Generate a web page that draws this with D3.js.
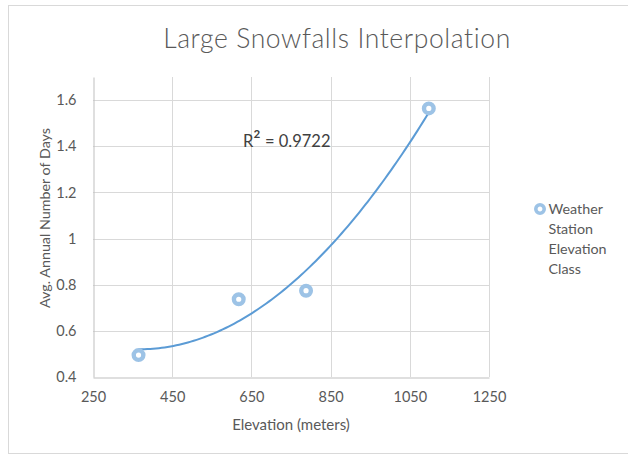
<!DOCTYPE html>
<html>
<head>
<meta charset="utf-8">
<script src="https://cdn.jsdelivr.net/npm/d3@7"></script>
<style>
  html, body { margin: 0; padding: 0; background: #fff; }
  svg { display: block; font-family: Lato, "Open Sans", sans-serif; }
</style>
</head>
<body>
<svg id="chart" width="628" height="455"></svg>
<script>
// Station elevation classes and their average annual count of large-snowfall days
const elevations = [365, 618, 788, 1098];
const avgDays = [0.495, 0.737, 0.774, 1.564];
const xTicks = [250, 450, 650, 850, 1050, 1250];
const yTicks = [0.4, 0.6, 0.8, 1.0, 1.2, 1.4, 1.6];
const chartTitle = "Large Snowfalls Interpolation";
const xTitle = "Elevation (meters)";
const yTitle = "Avg. Annual Number of Days";
const seriesName = ["Weather", "Station", "Elevation", "Class"];
const rSquaredValue = "0.9722";

const svg = d3.select("#chart");
const W = 628, H = 455;
const plot = { left: 93, right: 489, top: 77, bottom: 377 };

const x = d3.scaleLinear().domain([250, 1250]).range([plot.left, plot.right]);
const y = d3.scaleLinear().domain([0.4, 1.7]).range([plot.bottom, plot.top]);

const textColor = "#595959";
const gridColor = "#d9d9d9";

// chart frame
svg.append("rect")
  .attr("x", 8.5).attr("y", 5.5)
  .attr("width", W + 10).attr("height", 448)
  .attr("fill", "#fff").attr("stroke", gridColor).attr("stroke-width", 1);

// title
svg.append("text")
  .attr("x", 337).attr("y", 48)
  .attr("text-anchor", "middle")
  .attr("font-size", 26.5).attr("font-weight", 300).attr("fill", textColor)
  .attr("letter-spacing", 0.6)
  .text(chartTitle);

const g = svg.append("g");

// horizontal gridlines
g.selectAll("line.hgrid").data(yTicks.slice(1)).join("line")
  .attr("class", "hgrid")
  .attr("x1", plot.left).attr("x2", plot.right)
  .attr("y1", d => Math.round(y(d)) + 0.5).attr("y2", d => Math.round(y(d)) + 0.5)
  .attr("stroke", gridColor).attr("stroke-width", 1);

// vertical gridlines
g.selectAll("line.vgrid").data(xTicks.slice(1)).join("line")
  .attr("class", "vgrid")
  .attr("x1", d => Math.round(x(d)) + 0.5).attr("x2", d => Math.round(x(d)) + 0.5)
  .attr("y1", plot.top).attr("y2", plot.bottom)
  .attr("stroke", gridColor).attr("stroke-width", 1);

// axes
const xAxis = d3.axisBottom(x).tickValues(xTicks).tickSize(0).tickPadding(14).tickFormat(d3.format("d"));
const yAxis = d3.axisLeft(y).tickValues(yTicks).tickSize(0).tickPadding(17)
  .tickFormat(d => d === 1 ? "1" : d3.format(".1f")(d));

const gx = g.append("g").attr("transform", `translate(0,${plot.bottom + 0.5})`).call(xAxis);
const gy = g.append("g").attr("transform", `translate(${plot.left + 0.5},0)`).call(yAxis);
[gx, gy].forEach(a => {
  a.select(".domain").attr("stroke", "#bfbfbf").attr("stroke-width", 1);
  a.selectAll("text").attr("font-size", 14.5).attr("fill", textColor)
    .attr("font-family", "Lato, 'Open Sans', sans-serif");
});

// axis titles
svg.append("text")
  .attr("x", (plot.left + plot.right) / 2).attr("y", 430)
  .attr("text-anchor", "middle").attr("font-size", 15).attr("fill", textColor)
  .text(xTitle);
svg.append("text")
  .attr("transform", `translate(50,${(plot.top + plot.bottom) / 2 - 9}) rotate(-90)`)
  .attr("text-anchor", "middle").attr("font-size", 14.3).attr("fill", textColor)
  .text(yTitle);

// second-order polynomial trendline (least squares fit of the points)
function polyFit2(xs, ys) {
  const n = xs.length;
  let s = [0, 0, 0, 0, 0], t = [0, 0, 0];
  for (let i = 0; i < n; i++) {
    const xi = xs[i];
    for (let k = 0; k <= 4; k++) s[k] += Math.pow(xi, k);
    for (let k = 0; k <= 2; k++) t[k] += ys[i] * Math.pow(xi, k);
  }
  const M = [[s[0], s[1], s[2], t[0]], [s[1], s[2], s[3], t[1]], [s[2], s[3], s[4], t[2]]];
  for (let c = 0; c < 3; c++) {
    for (let r = c + 1; r < 3; r++) {
      const f = M[r][c] / M[c][c];
      for (let k = c; k < 4; k++) M[r][k] -= f * M[c][k];
    }
  }
  const coef = [0, 0, 0];
  for (let r = 2; r >= 0; r--) {
    let v = M[r][3];
    for (let k = r + 1; k < 3; k++) v -= M[r][k] * coef[k];
    coef[r] = v / M[r][r];
  }
  return coef;
}
const center = 700, scale = 100;
const us = elevations.map(e => (e - center) / scale);
const [a0, a1, a2] = polyFit2(us, avgDays);
const trend = d3.range(0, 101).map(i => {
  const e = elevations[0] + (elevations[elevations.length - 1] - elevations[0]) * i / 100;
  const u = (e - center) / scale;
  return [e, a0 + a1 * u + a2 * u * u];
});
g.append("path")
  .datum(trend)
  .attr("fill", "none").attr("stroke", "#5b9bd5").attr("stroke-width", 2)
  .attr("d", d3.line().x(d => x(d[0])).y(d => y(d[1])));

// R-squared annotation
const rLabel = svg.append("text")
  .attr("x", 243).attr("y", 147)
  .attr("font-size", 16.5).attr("fill", "#404040");
rLabel.append("tspan").text("R");
rLabel.append("tspan").attr("font-size", 22).attr("dy", 1).text("\u00B2");
rLabel.append("tspan").attr("dy", -1).text(" = " + rSquaredValue);

// data points
g.selectAll("circle.pt").data(elevations.map((e, i) => [e, avgDays[i]])).join("circle")
  .attr("class", "pt")
  .attr("cx", d => x(d[0])).attr("cy", d => y(d[1]))
  .attr("r", 4.8)
  .attr("fill", "#fff").attr("stroke", "#9dc3e6").attr("stroke-width", 4.4);

// legend
const lg = svg.append("g").attr("transform", "translate(540,209)");
lg.append("circle").attr("r", 4.2).attr("fill", "#fff")
  .attr("stroke", "#9dc3e6").attr("stroke-width", 3.6);
lg.selectAll("text").data(seriesName).join("text")
  .attr("x", 8.5).attr("y", (d, i) => 5 + i * 20)
  .attr("font-size", 14.3).attr("fill", textColor)
  .text(d => d);
</script>
</body>
</html>
